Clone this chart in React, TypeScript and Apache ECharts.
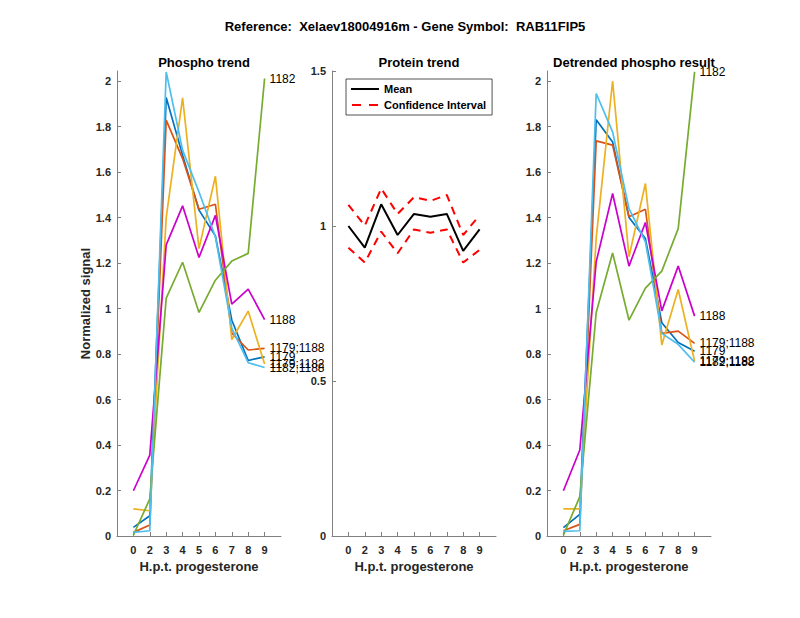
import React, { useEffect, useRef } from "react";
import * as echarts from "echarts";

const mainTitle = "Reference:  Xelaev18004916m - Gene Symbol:  RAB11FIP5";
const panelTitles = ["Phospho trend", "Protein trend", "Detrended phospho result"];
const timeLabels = ["0", "2", "3", "4", "5", "6", "7", "8", "9"];
const siteNames = ["1179", "1179;1188", "1179;1182", "1188", "1182", "1182;1188"];
const siteColors = ["#0072BD", "#D95319", "#EDB120", "#CC00CC", "#77AC30", "#4DBEEE"];

// Phospho trend (left)
const phospho1179 = [0.038, 0.089, 1.928, 1.675, 1.433, 1.32, 0.949, 0.772, 0.788];
const phospho1179_1188 = [0.016, 0.048, 1.829, 1.66, 1.437, 1.459, 0.892, 0.818, 0.825];
const phospho1179_1182 = [0.119, 0.111, 1.4, 1.927, 1.264, 1.582, 0.864, 0.989, 0.756];
const phospho1188 = [0.199, 0.356, 1.28, 1.452, 1.225, 1.41, 1.02, 1.086, 0.952];
const phospho1182 = [0.004, 0.163, 1.046, 1.204, 0.983, 1.125, 1.209, 1.243, 2.012];
const phospho1182_1188 = [0.016, 0.023, 2.041, 1.697, 1.513, 1.316, 0.914, 0.762, 0.741];

// Protein trend (middle)
const proteinMean = [1.0, 0.93, 1.07, 0.971, 1.039, 1.03, 1.039, 0.92, 0.989];
const proteinUpper = [1.068, 1.001, 1.121, 1.039, 1.093, 1.081, 1.1, 0.971, 1.035];
const proteinLower = [0.93, 0.882, 0.982, 0.912, 0.989, 0.978, 0.989, 0.882, 0.923];

// Detrended phospho result (right)
const detr1179 = [0.037, 0.095, 1.831, 1.733, 1.401, 1.308, 0.938, 0.851, 0.813];
const detr1179_1188 = [0.023, 0.051, 1.738, 1.719, 1.404, 1.437, 0.891, 0.901, 0.847];
const detr1179_1182 = [0.119, 0.119, 1.31, 2.001, 1.228, 1.55, 0.84, 1.084, 0.769];
const detr1188 = [0.199, 0.378, 1.206, 1.506, 1.187, 1.379, 0.99, 1.187, 0.967];
const detr1182 = [0.004, 0.173, 0.983, 1.245, 0.949, 1.09, 1.165, 1.352, 2.041];
const detr1182_1188 = [0.02, 0.023, 1.946, 1.777, 1.44, 1.294, 0.891, 0.843, 0.764];

const phosphoTicks = [0, 0.2, 0.4, 0.6, 0.8, 1, 1.2, 1.4, 1.6, 1.8, 2];
const proteinTicks = [0, 0.5, 1, 1.5];

const phosphoSets = [phospho1179, phospho1179_1188, phospho1179_1182, phospho1188, phospho1182, phospho1182_1188];
const detrSets = [detr1179, detr1179_1188, detr1179_1182, detr1188, detr1182, detr1182_1188];

const FONT = "'Liberation Sans', Arial, Helvetica, sans-serif";
const AXIS_COLOR = "#808080";
const TEXT_COLOR = "#262626";

const SOLID_ICON = "path://M0 0H28V2H0Z";
const DASH_ICON = "path://M0 0H9V2H0Z M17 0H26V2H17Z";

const toPoints = (vals: number[]) => vals.map((v, i) => [i + 1, v]);

export default function App() {
  const ref = useRef<HTMLDivElement>(null);
  useEffect(() => {
    document.body.style.margin = "0";
    if (!ref.current) return;
    const chart = echarts.init(ref.current, null, { renderer: "svg" });

    const gridLefts = [117, 332, 547];
    const gridW = 164;
    const gridTop = 71;
    const gridH = 465;

    const xTicks = timeLabels.map((_, i) => i + 1);

    const xAxes = gridLefts.map((_, gi) => ({
      type: "value",
      gridIndex: gi,
      min: 0,
      max: 10,
      name: "H.p.t. progesterone",
      nameLocation: "middle",
      nameGap: 24,
      nameTextStyle: { fontFamily: FONT, fontWeight: "bold", fontSize: 13, color: TEXT_COLOR },
      axisLine: { show: true, lineStyle: { color: AXIS_COLOR, width: 1 } },
      axisTick: { show: true, inside: true, length: 4, customValues: xTicks, lineStyle: { color: AXIS_COLOR } },
      axisLabel: {
        customValues: xTicks,
        formatter: (v: number) => timeLabels[Math.round(v) - 1] ?? "",
        fontFamily: FONT,
        fontWeight: "bold",
        fontSize: 11,
        color: TEXT_COLOR,
        margin: 8,
      },
      splitLine: { show: false },
    }));

    const yAxes = gridLefts.map((_, gi) => {
      const ticks = gi === 1 ? proteinTicks : phosphoTicks;
      return {
        type: "value",
        gridIndex: gi,
        min: 0,
        max: gi === 1 ? 1.5 : 2.045,
        name: gi === 0 ? "Normalized signal" : "",
        nameLocation: "middle",
        nameGap: 24,
        nameTextStyle: { fontFamily: FONT, fontWeight: "bold", fontSize: 13, color: TEXT_COLOR },
        axisLine: { show: true, lineStyle: { color: AXIS_COLOR, width: 1 } },
        axisTick: { show: true, inside: true, length: 4, customValues: ticks, lineStyle: { color: AXIS_COLOR } },
        axisLabel: {
          customValues: ticks,
          formatter: (v: number) => String(Math.round(v * 10) / 10),
          fontFamily: FONT,
          fontWeight: "bold",
          fontSize: 11,
          color: TEXT_COLOR,
          margin: 6,
        },
        splitLine: { show: false },
      };
    });

    const siteSeries = (sets: number[][], gi: number) =>
      sets.map((vals, si) => ({
        type: "line",
        name: siteNames[si],
        xAxisIndex: gi,
        yAxisIndex: gi,
        data: toPoints(vals),
        symbol: "none",
        lineStyle: { color: siteColors[si], width: 1.7 },
        itemStyle: { color: siteColors[si] },
        endLabel: {
          show: true,
          formatter: siteNames[si],
          distance: 5,
          color: "#000",
          fontFamily: FONT,
          fontSize: 12,
        },
        emphasis: { disabled: true },
        clip: false,
      }));

    const proteinSeries = [
      {
        type: "line",
        name: "Mean",
        xAxisIndex: 1,
        yAxisIndex: 1,
        data: toPoints(proteinMean),
        symbol: "none",
        lineStyle: { color: "#000", width: 2 },
        itemStyle: { color: "#000" },
        z: 3,
      },
      {
        type: "line",
        name: "Confidence Interval",
        xAxisIndex: 1,
        yAxisIndex: 1,
        data: toPoints(proteinUpper),
        symbol: "none",
        lineStyle: { color: "#FF0000", width: 2, type: [8, 6] },
        itemStyle: { color: "#FF0000" },
      },
      {
        type: "line",
        name: "Confidence Interval",
        xAxisIndex: 1,
        yAxisIndex: 1,
        data: toPoints(proteinLower),
        symbol: "none",
        lineStyle: { color: "#FF0000", width: 2, type: [8, 6] },
        itemStyle: { color: "#FF0000" },
      },
    ];

    chart.setOption({
      animation: false,
      backgroundColor: "#fff",
      title: [
        {
          text: mainTitle,
          left: 400,
          top: 15,
          textAlign: "center",
          textStyle: { fontFamily: FONT, fontWeight: "bold", fontSize: 13, color: "#000" },
        },
        ...panelTitles.map((t, i) => ({
          text: t,
          left: gridLefts[i] + gridW / 2,
          top: 51,
          textAlign: "center",
          textStyle: { fontFamily: FONT, fontWeight: "bold", fontSize: 13, color: "#000" },
        })),
      ],
      legend: {
        data: [
          { name: "Mean", icon: SOLID_ICON },
          { name: "Confidence Interval", icon: DASH_ICON },
        ],
        orient: "vertical",
        left: 346,
        top: 79,
        itemWidth: 28,
        itemHeight: 2,
        itemGap: 4,
        padding: [4, 6, 4, 5],
        borderColor: "#262626",
        borderWidth: 0.8,
        backgroundColor: "#fff",
        selectedMode: false,
        textStyle: { fontFamily: FONT, fontWeight: "bold", fontSize: 11, color: "#000", lineHeight: 12 },
      },
      grid: gridLefts.map((l) => ({ left: l, top: gridTop, width: gridW, height: gridH, containLabel: false })),
      xAxis: xAxes,
      yAxis: yAxes,
      series: [...siteSeries(phosphoSets, 0), ...proteinSeries, ...siteSeries(detrSets, 2)],
    });

    return () => chart.dispose();
  }, []);

  return <div ref={ref} style={{ width: 800, height: 618 }} />;
}
